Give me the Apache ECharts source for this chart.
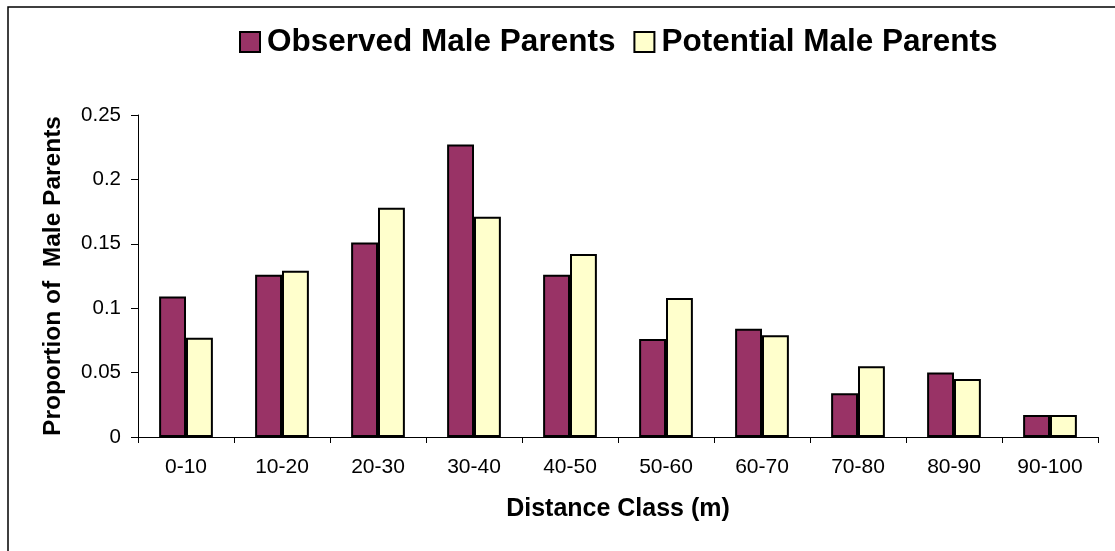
<!DOCTYPE html>
<html>
<head>
<meta charset="utf-8">
<script src="https://cdn.jsdelivr.net/npm/echarts@6/dist/echarts.min.js"></script>
<style>
  html, body { margin: 0; padding: 0; background: #fff; }
  #chart-container { width: 1115px; height: 551px; }
</style>
</head>
<body>
<div id="chart-container"></div>
<script>
var dom = document.getElementById("chart-container");
var myChart = echarts.init(dom, null, { renderer: "canvas" });

var categories = ["0-10", "10-20", "20-30", "30-40", "40-50", "50-60", "60-70", "70-80", "80-90", "90-100"];
var observed = [0.109, 0.126, 0.151, 0.227, 0.126, 0.076, 0.084, 0.034, 0.050, 0.017];
var potential = [0.077, 0.129, 0.178, 0.171, 0.142, 0.108, 0.079, 0.055, 0.045, 0.017];

var font = "Liberation Sans, Arial, sans-serif";

var option = {
  backgroundColor: "#fff",
  textStyle: { fontFamily: font, color: "#000" },
  // outer chart frame (right/bottom edges fall outside the picture)
  graphic: [
    {
      type: "rect",
      shape: { x: 8, y: 7, width: 1200, height: 700 },
      style: { fill: "none", stroke: "#000", lineWidth: 1.5 },
      silent: true,
    },
  ],
  legend: {
    left: 234,
    top: 21,
    icon: "rect",
    itemWidth: 20,
    itemHeight: 20,
    itemGap: 18,
    textStyle: { fontSize: 31.5, fontWeight: "bold", color: "#000", fontFamily: font, padding: [0, 0, 0, 2] },
    data: ["Observed Male Parents", "Potential Male Parents"],
  },
  grid: { left: 138, right: 17, top: 115, bottom: 114, containLabel: false },
  xAxis: {
    type: "category",
    data: categories,
    name: "Distance Class (m)",
    nameLocation: "middle",
    nameGap: 60,
    nameTextStyle: { fontSize: 25, fontWeight: "bold", color: "#000" },
    axisLine: { lineStyle: { color: "#000", width: 1 } },
    axisTick: { show: true, length: 6, interval: 0, lineStyle: { color: "#000" } },
    axisLabel: { fontSize: 21, color: "#000", margin: 20, interval: 0 },
  },
  yAxis: {
    type: "value",
    min: 0,
    max: 0.25,
    interval: 0.05,
    name: "Proportion of  Male Parents",
    nameLocation: "middle",
    nameGap: 72,
    nameTextStyle: { fontSize: 24.5, fontWeight: "bold", color: "#000" },
    axisLine: { show: true, lineStyle: { color: "#000", width: 1 } },
    axisTick: { show: true, length: 7, lineStyle: { color: "#000" } },
    axisLabel: { fontSize: 20.5, color: "#000", margin: 17 },
    splitLine: { show: false },
  },
  series: [
    {
      name: "Observed Male Parents",
      type: "bar",
      data: observed,
      barGap: "0%",
      barCategoryGap: "44%",
      itemStyle: { color: "#993366", borderColor: "#000", borderWidth: 2 },
    },
    {
      name: "Potential Male Parents",
      type: "bar",
      data: potential,
      itemStyle: { color: "#FFFFCC", borderColor: "#000", borderWidth: 2 },
    },
  ],
};

myChart.setOption(option);

window.addEventListener("resize", function () {
  myChart.resize();
});
</script>
</body>
</html>
